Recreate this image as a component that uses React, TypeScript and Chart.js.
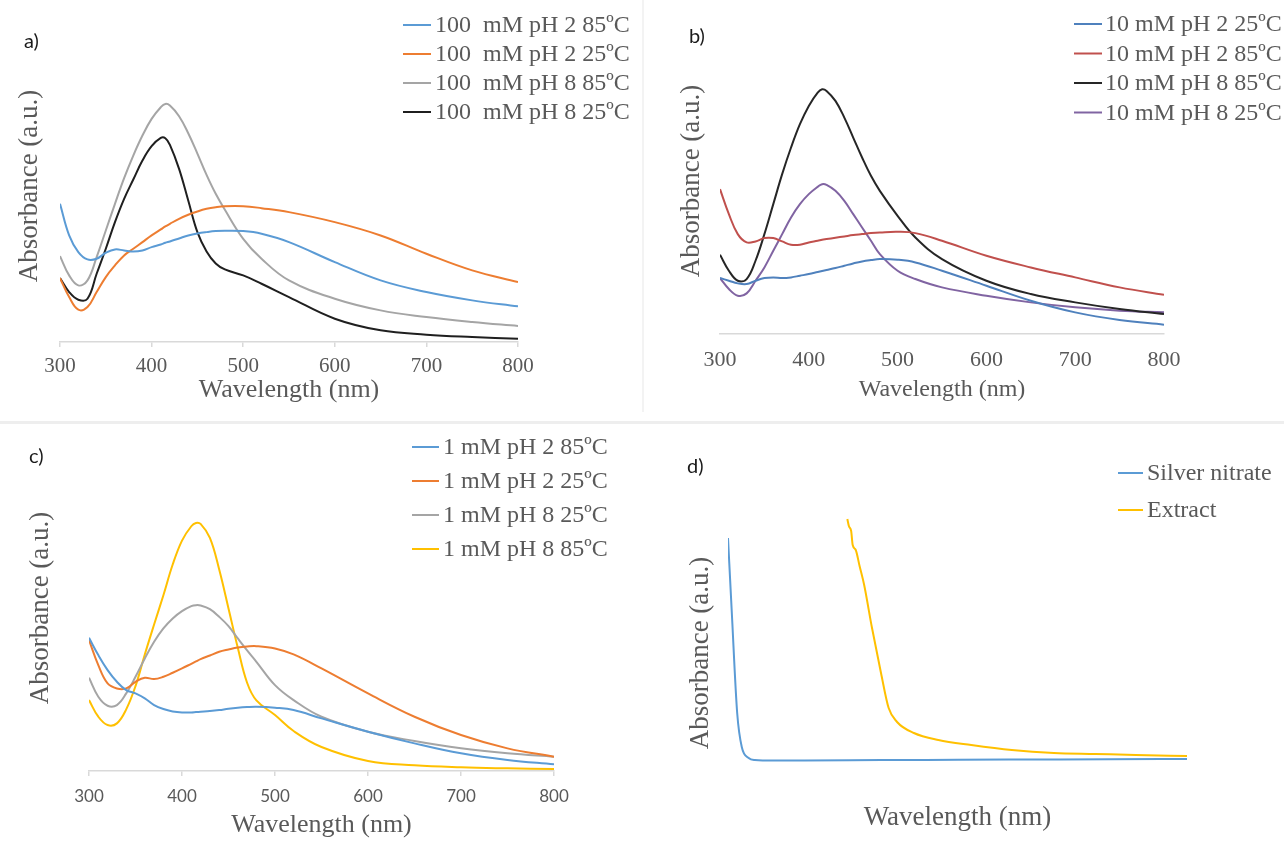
import React, { useEffect, useRef } from "react";
import { Chart, registerables } from "chart.js";

Chart.register(...registerables);

const SERIF = "'Liberation Serif', 'Times New Roman', serif";
const SANS = "Lato, 'Open Sans', 'DejaVu Sans', sans-serif";
const TEXT = "#595959";
const AXIS = "#d9d9d9";

// ---------- shared wavelength grid (nm) for panels a, b, c ----------
const WL = [300, 310, 320, 330, 340, 350, 360, 370, 380, 390, 400, 410, 415, 420, 430, 440, 450, 460, 470, 480, 500, 520, 550, 600, 650, 700, 750, 800];
const X_TICKS = [300, 400, 500, 600, 700, 800];

// ---------- panel a: 100 mM ----------
const A_LABELS = ["100  mM pH 2 85ºC", "100  mM pH 2 25ºC", "100  mM pH 8 85ºC", "100  mM pH 8 25ºC"];
const A_PH2_85 = [4.15, 3.2, 2.7, 2.48, 2.5, 2.68, 2.78, 2.75, 2.72, 2.75, 2.85, 2.93, 2.98, 3.02, 3.11, 3.2, 3.26, 3.3, 3.33, 3.34, 3.33, 3.25, 3.0, 2.4, 1.85, 1.5, 1.25, 1.07];
const A_PH2_25 = [1.92, 1.35, 0.97, 1.05, 1.5, 1.95, 2.3, 2.6, 2.8, 3.0, 3.2, 3.38, 3.47, 3.55, 3.7, 3.82, 3.92, 4.0, 4.05, 4.08, 4.08, 4.02, 3.9, 3.6, 3.2, 2.65, 2.15, 1.8];
const A_PH8_85 = [2.58, 2.0, 1.7, 1.85, 2.55, 3.35, 4.15, 4.92, 5.6, 6.2, 6.7, 7.05, 7.15, 7.1, 6.78, 6.27, 5.66, 5.02, 4.45, 3.97, 3.1, 2.5, 1.85, 1.3, 0.95, 0.75, 0.6, 0.48];
const A_PH8_25 = [1.92, 1.5, 1.27, 1.3, 2.05, 2.8, 3.6, 4.3, 4.88, 5.45, 5.88, 6.13, 6.12, 5.92, 5.2, 4.25, 3.3, 2.72, 2.36, 2.18, 2.0, 1.75, 1.35, 0.7, 0.35, 0.22, 0.15, 0.1];

// ---------- panel b: 10 mM ----------
const B_LABELS = ["10 mM pH 2 25ºC", "10 mM pH 2 85ºC", "10 mM pH 8 85ºC", "10 mM pH 8 25ºC"];
const B_PH2_25 = [1.68, 1.6, 1.52, 1.5, 1.6, 1.68, 1.7, 1.68, 1.7, 1.75, 1.8, 1.86, 1.89, 1.92, 1.98, 2.05, 2.12, 2.18, 2.22, 2.25, 2.23, 2.15, 1.9, 1.45, 1.0, 0.65, 0.42, 0.28];
const B_PH2_85 = [4.35, 3.6, 3.0, 2.75, 2.78, 2.88, 2.88, 2.78, 2.68, 2.68, 2.75, 2.8, 2.83, 2.85, 2.89, 2.93, 2.97, 3.0, 3.03, 3.05, 3.07, 3.03, 2.8, 2.35, 2.0, 1.7, 1.4, 1.18];
const B_PH8_85 = [2.38, 1.9, 1.6, 1.65, 2.2, 3.0, 3.9, 4.8, 5.6, 6.3, 6.85, 7.25, 7.35, 7.3, 7.0, 6.5, 5.9, 5.3, 4.75, 4.3, 3.55, 2.9, 2.25, 1.6, 1.2, 0.95, 0.75, 0.6];
const B_PH8_25 = [1.68, 1.35, 1.15, 1.22, 1.6, 2.0, 2.5, 3.0, 3.5, 3.9, 4.2, 4.42, 4.5, 4.48, 4.3, 4.0, 3.6, 3.2, 2.8, 2.4, 1.9, 1.65, 1.4, 1.15, 0.95, 0.8, 0.7, 0.65];

// ---------- panel c: 1 mM ----------
const C_LABELS = ["1 mM pH 2 85ºC", "1 mM pH 2 25ºC", "1 mM pH 8 25ºC", "1 mM pH 8 85ºC"];
const C_PH2_85 = [4.0, 3.48, 3.03, 2.68, 2.43, 2.33, 2.18, 1.98, 1.86, 1.79, 1.76, 1.76, 1.77, 1.78, 1.8, 1.83, 1.87, 1.9, 1.92, 1.93, 1.9, 1.83, 1.58, 1.18, 0.83, 0.53, 0.33, 0.2];
const C_PH2_25 = [3.93, 3.18, 2.63, 2.48, 2.48, 2.68, 2.8, 2.76, 2.83, 2.95, 3.08, 3.22, 3.29, 3.36, 3.47, 3.58, 3.65, 3.71, 3.74, 3.75, 3.68, 3.5, 3.08, 2.33, 1.63, 1.08, 0.68, 0.43];
const C_PH8_25 = [2.8, 2.23, 1.96, 1.98, 2.33, 2.83, 3.38, 3.88, 4.28, 4.58, 4.8, 4.95, 4.98, 4.97, 4.86, 4.63, 4.35, 3.98, 3.62, 3.28, 2.58, 2.13, 1.63, 1.18, 0.9, 0.68, 0.53, 0.43];
const C_PH8_85 = [2.13, 1.63, 1.38, 1.43, 1.85, 2.55, 3.5, 4.4, 5.28, 6.2, 6.92, 7.35, 7.45, 7.42, 7.0, 6.05, 4.88, 3.7, 2.65, 2.12, 1.68, 1.2, 0.72, 0.3, 0.17, 0.11, 0.08, 0.06];

// ---------- panel d: controls ----------
const D_LABELS = ["Silver nitrate", "Extract"];
const D_SILVER_WL = [200, 205, 212, 218, 227, 235, 260, 300, 400, 500, 600, 700, 800];
const D_SILVER = [23.2, 15.7, 5.7, 2.3, 1.2, 1.0, 0.95, 0.95, 1.0, 1.02, 1.05, 1.08, 1.1];
const D_EXTRACT_WL = [356, 358, 361, 363, 367, 372, 378, 388, 400, 410, 421, 443, 475, 518, 571, 626, 680, 733, 800];
const D_EXTRACT = [25.1, 24.4, 23.9, 22.5, 22.0, 20.4, 18.5, 14.3, 9.7, 6.2, 4.8, 3.7, 3.0, 2.5, 2.0, 1.7, 1.6, 1.5, 1.4];

type Series = { label: string; color: string; wl: number[]; values: number[] };
type Spec = {
  left: number; top: number; w: number; h: number;
  series: Series[];
  smooth: "bezier" | "monotone";
  padTop: number; padRight: number; padBottom: number; yW: number; xH: number;
  xMin: number; xMax: number;
  showTicks: boolean; tickMarks: boolean; axisLine: boolean;
  tickFamily: string; tickSize: number; tickPad: number;
  xTitleSize: number;
  yMin: number; yMax: number; yTitleSize: number; yTitlePad: number;
  legend: { x: number; y: number; len: number; gap: number; row: number; size: number };
};

const legendPlugin = {
  id: "panelLegend",
  afterDraw(chart: any, _args: any, opts: any) {
    const ctx = chart.ctx;
    ctx.save();
    ctx.font = `${opts.size}px ${SERIF}`;
    ctx.textBaseline = "middle";
    ctx.textAlign = "left";
    chart.data.datasets.forEach((ds: any, i: number) => {
      const y = opts.y + i * opts.row;
      ctx.strokeStyle = ds.borderColor;
      ctx.lineWidth = 2;
      ctx.beginPath();
      ctx.moveTo(opts.x, y);
      ctx.lineTo(opts.x + opts.len, y);
      ctx.stroke();
      ctx.fillStyle = TEXT;
      ctx.fillText(ds.label, opts.x + opts.len + opts.gap, y + 1);
    });
    ctx.restore();
  },
};

function buildConfig(s: Spec): any {
  return {
    type: "line",
    data: {
      datasets: s.series.map((se) => ({
        label: se.label,
        data: se.wl.map((x, i) => ({ x, y: se.values[i] })),
        borderColor: se.color,
        backgroundColor: se.color,
        borderWidth: 2,
        pointRadius: 0,
        cubicInterpolationMode: s.smooth === "monotone" ? "monotone" : "default",
        tension: 0.4,
        fill: false,
      })),
    },
    options: {
      responsive: false,
      animation: false,
      events: [],
      layout: { padding: { left: 0, top: s.padTop, right: s.padRight, bottom: s.padBottom } },
      plugins: {
        legend: { display: false },
        tooltip: { enabled: false },
        panelLegend: s.legend,
      },
      scales: {
        x: {
          type: "linear",
          min: s.xMin,
          max: s.xMax,
          afterBuildTicks: (sc: any) => {
            if (s.showTicks) sc.ticks = X_TICKS.map((v) => ({ value: v }));
          },
          ticks: {
            display: s.showTicks,
            maxRotation: 0,
            autoSkip: false,
            padding: s.tickPad,
            color: TEXT,
            font: { family: s.tickFamily, size: s.tickSize },
          },
          grid: {
            display: s.tickMarks,
            drawOnChartArea: false,
            drawTicks: s.tickMarks,
            tickLength: 5,
            color: AXIS,
            lineWidth: 1.5,
          },
          border: { display: s.axisLine, color: AXIS, width: 1.5 },
          title: {
            display: true,
            text: "Wavelength (nm)",
            color: TEXT,
            font: { family: SERIF, size: s.xTitleSize },
            padding: 0,
          },
          afterFit: (sc: any) => {
            sc.height = s.xH;
          },
        },
        y: {
          type: "linear",
          min: s.yMin,
          max: s.yMax,
          ticks: { display: false },
          grid: { display: false },
          border: { display: false },
          title: {
            display: true,
            text: "Absorbance (a.u.)",
            color: TEXT,
            font: { family: SERIF, size: s.yTitleSize },
            padding: { top: s.yTitlePad, bottom: 0 },
          },
          afterFit: (sc: any) => {
            sc.width = s.yW;
          },
        },
      },
    },
    plugins: [legendPlugin],
  };
}

const SPECS: Spec[] = [
  {
    left: 0, top: 0, w: 642, h: 420,
    series: [
      { label: A_LABELS[0], color: "#5B9BD5", wl: WL, values: A_PH2_85 },
      { label: A_LABELS[1], color: "#ED7D31", wl: WL, values: A_PH2_25 },
      { label: A_LABELS[2], color: "#A5A5A5", wl: WL, values: A_PH8_85 },
      { label: A_LABELS[3], color: "#1f1f1f", wl: WL, values: A_PH8_25 },
    ],
    smooth: "bezier",
    padTop: 30, padRight: 124, padBottom: 14, yW: 60, xH: 64,
    xMin: 300, xMax: 800,
    showTicks: true, tickMarks: true, axisLine: true,
    tickFamily: SERIF, tickSize: 21, tickPad: 7,
    xTitleSize: 26,
    yMin: 0, yMax: 9.37, yTitleSize: 27, yTitlePad: 14,
    legend: { x: 403, y: 25, len: 28, gap: 4, row: 29, size: 24 },
  },
  {
    left: 642, top: 0, w: 642, h: 420,
    series: [
      { label: B_LABELS[0], color: "#4F81BD", wl: WL, values: B_PH2_25 },
      { label: B_LABELS[1], color: "#C0504D", wl: WL, values: B_PH2_85 },
      { label: B_LABELS[2], color: "#262626", wl: WL, values: B_PH8_85 },
      { label: B_LABELS[3], color: "#8064A2", wl: WL, values: B_PH8_25 },
    ],
    smooth: "bezier",
    padTop: 28, padRight: 120, padBottom: 16, yW: 78, xH: 70,
    xMin: 300, xMax: 800,
    showTicks: true, tickMarks: false, axisLine: true,
    tickFamily: SERIF, tickSize: 22, tickPad: 13,
    xTitleSize: 24,
    yMin: 0, yMax: 9.19, yTitleSize: 27, yTitlePad: 34,
    legend: { x: 432, y: 24, len: 28, gap: 3, row: 29.5, size: 24 },
  },
  {
    left: 0, top: 420, w: 642, h: 421,
    series: [
      { label: C_LABELS[0], color: "#5B9BD5", wl: WL, values: C_PH2_85 },
      { label: C_LABELS[1], color: "#ED7D31", wl: WL, values: C_PH2_25 },
      { label: C_LABELS[2], color: "#A5A5A5", wl: WL, values: C_PH8_25 },
      { label: C_LABELS[3], color: "#FFC000", wl: WL, values: C_PH8_85 },
    ],
    smooth: "bezier",
    padTop: 25, padRight: 88, padBottom: 0, yW: 89, xH: 70,
    xMin: 300, xMax: 800,
    showTicks: true, tickMarks: true, axisLine: true,
    tickFamily: SANS, tickSize: 17, tickPad: 10,
    xTitleSize: 26,
    yMin: 0, yMax: 9.79, yTitleSize: 27, yTitlePad: 25,
    legend: { x: 412, y: 27, len: 27, gap: 4, row: 34, size: 24 },
  },
  {
    left: 642, top: 420, w: 642, h: 421,
    series: [
      { label: D_LABELS[0], color: "#5B9BD5", wl: D_SILVER_WL, values: D_SILVER },
      { label: D_LABELS[1], color: "#FFC000", wl: D_EXTRACT_WL, values: D_EXTRACT },
    ],
    smooth: "monotone",
    padTop: 90, padRight: 97, padBottom: 7, yW: 86, xH: 38,
    xMin: 200, xMax: 800,
    showTicks: false, tickMarks: false, axisLine: false,
    tickFamily: SERIF, tickSize: 21, tickPad: 7,
    xTitleSize: 27,
    yMin: -2.6, yMax: 26, yTitleSize: 27, yTitlePad: 43,
    legend: { x: 476, y: 53, len: 25, gap: 4, row: 37, size: 24 },
  },
];

const PANEL_TAGS = [
  { text: "a)", left: 24, top: 28 },
  { text: "b)", left: 689, top: 23 },
  { text: "c)", left: 29, top: 443 },
  { text: "d)", left: 687, top: 453 },
];

function Panel({ spec }: { spec: Spec }) {
  const ref = useRef<HTMLCanvasElement | null>(null);
  useEffect(() => {
    if (!ref.current) return;
    const chart = new Chart(ref.current, buildConfig(spec));
    return () => chart.destroy();
  }, [spec]);
  return (
    <canvas
      ref={ref}
      width={spec.w}
      height={spec.h}
      style={{ position: "absolute", left: spec.left, top: spec.top, width: spec.w, height: spec.h, display: "block" }}
    />
  );
}

export default function App() {
  return (
    <div style={{ position: "fixed", left: 0, top: 0, width: 1284, height: 841, background: "#ffffff", overflow: "hidden" }}>
      <div style={{ position: "absolute", left: 0, top: 421, width: 1284, height: 3, background: "#eeeeee" }} />
      <div style={{ position: "absolute", left: 642, top: 0, width: 2, height: 412, background: "#f3f3f3" }} />
      {SPECS.map((s, i) => (
        <Panel key={i} spec={s} />
      ))}
      {PANEL_TAGS.map((t) => (
        <div
          key={t.text}
          style={{ position: "absolute", left: t.left, top: t.top, fontFamily: SANS, fontSize: 20, lineHeight: "24px", color: "#1a1a1a" }}
        >
          {t.text}
        </div>
      ))}
    </div>
  );
}
